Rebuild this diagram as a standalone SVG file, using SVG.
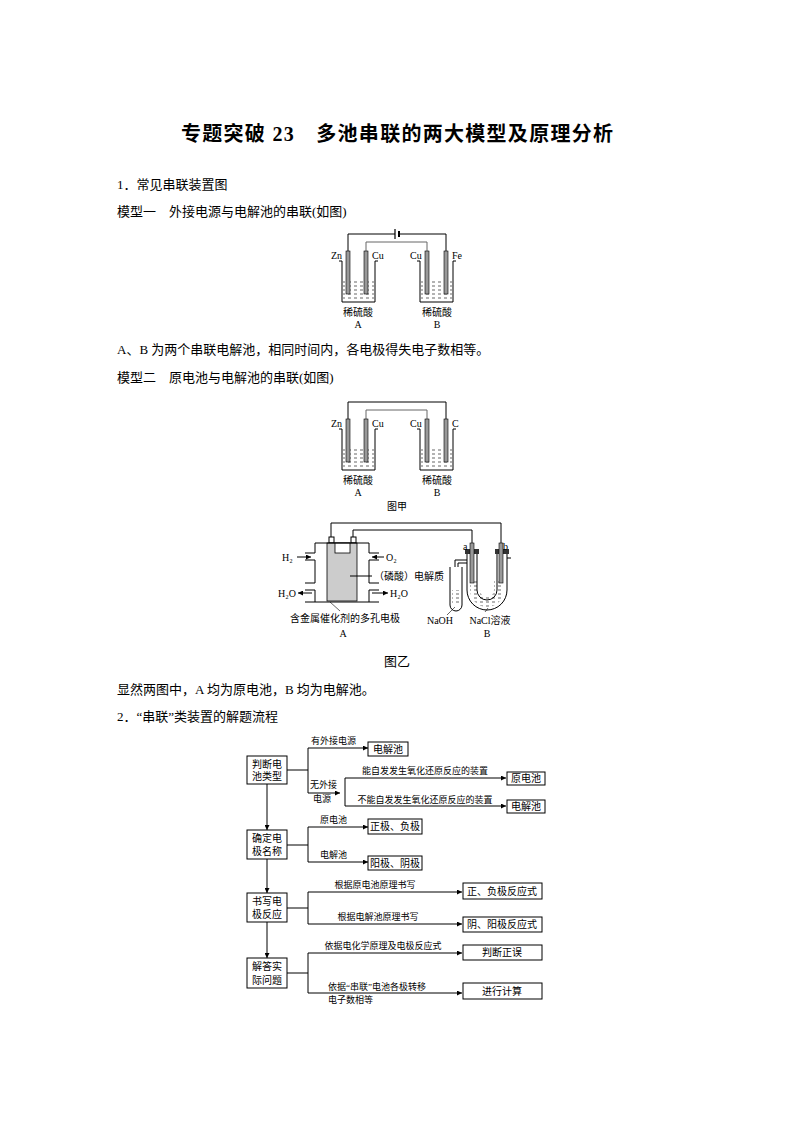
<svg xmlns="http://www.w3.org/2000/svg" width="794" height="1123" viewBox="0 0 794 1123">
<defs>
<marker id="ar" viewBox="0 0 6 6" refX="6" refY="3" markerWidth="5" markerHeight="5" orient="auto"><path d="M0,0 L6,3 L0,6 Z" fill="#000"/></marker>
<pattern id="dash" width="6" height="4" patternUnits="userSpaceOnUse"><line x1="0" y1="2" x2="3" y2="2" stroke="#000" stroke-width="0.6"/></pattern>
</defs>
<style>
text{font-family:"Liberation Serif","Noto Sans CJK SC",serif;fill:#000}
.t{font-size:13px}
.s{font-size:10px}
.xs{font-size:9px}
.b{fill:#fff;stroke:#000;stroke-width:1}
.l{fill:none;stroke:#000;stroke-width:1}
.g{fill:none;stroke:#666;stroke-width:1}
.el{fill:#999;stroke:#000;stroke-width:0.6}
</style>
<rect width="794" height="1123" fill="#fff"/>
<text x="397" y="141" font-size="20" font-weight="bold" text-anchor="middle" textLength="432" lengthAdjust="spacing">专题突破 23　多池串联的两大模型及原理分析</text>
<text x="117" y="189" class="t">1．常见串联装置图</text>
<text x="117" y="216" class="t">模型一　外接电源与电解池的串联(如图)</text>

<g id="fig1">
<path class="l" d="M348,251 V234 H395 M399,234 H446 V251"/>
<line x1="395" y1="229" x2="395" y2="239" stroke="#000" stroke-width="1.2"/>
<line x1="399" y1="231" x2="399" y2="237" stroke="#000" stroke-width="2"/>
<path class="g" d="M366,251 V242 H427 V251"/>
<path class="l" d="M339,261 H342 V302 H375 V261 H378"/>
<path class="l" d="M417,261 H420 V302 H453 V261 H456"/>
<rect x="343" y="280" width="31" height="21" fill="url(#dash)"/>
<rect x="421" y="280" width="31" height="21" fill="url(#dash)"/>
<rect class="el" x="346" y="251" width="4" height="43"/>
<rect class="el" x="364" y="251" width="4" height="43"/>
<rect class="el" x="425" y="251" width="4" height="43"/>
<rect class="el" x="444" y="251" width="4" height="43"/>
<text x="331" y="259" class="s">Zn</text><text x="372" y="259" class="s">Cu</text>
<text x="410" y="259" class="s">Cu</text><text x="452" y="259" class="s">Fe</text>
<text x="358" y="316" class="s" text-anchor="middle">稀硫酸</text><text x="358" y="328" class="s" text-anchor="middle">A</text>
<text x="437" y="316" class="s" text-anchor="middle">稀硫酸</text><text x="437" y="328" class="s" text-anchor="middle">B</text>
</g>
<text x="117" y="354" class="t">A、B 为两个串联电解池，相同时间内，各电极得失电子数相等。</text>
<text x="117" y="382" class="t">模型二　原电池与电解池的串联(如图)</text>

<g id="fig2">
<path class="l" d="M348,419 V402 H446 V419"/>
<path class="g" d="M366,419 V410 H427 V419"/>
<path class="l" d="M339,429 H342 V470 H375 V429 H378"/>
<path class="l" d="M417,429 H420 V470 H453 V429 H456"/>
<rect x="343" y="448" width="31" height="21" fill="url(#dash)"/>
<rect x="421" y="448" width="31" height="21" fill="url(#dash)"/>
<rect class="el" x="346" y="419" width="4" height="43"/>
<rect class="el" x="364" y="419" width="4" height="43"/>
<rect class="el" x="425" y="419" width="4" height="43"/>
<rect class="el" x="444" y="419" width="4" height="43"/>
<text x="331" y="427" class="s">Zn</text><text x="372" y="427" class="s">Cu</text>
<text x="410" y="427" class="s">Cu</text><text x="452" y="427" class="s">C</text>
<text x="358" y="484" class="s" text-anchor="middle">稀硫酸</text><text x="358" y="496" class="s" text-anchor="middle">A</text>
<text x="437" y="484" class="s" text-anchor="middle">稀硫酸</text><text x="437" y="496" class="s" text-anchor="middle">B</text>
<text x="397" y="510" class="s" text-anchor="middle">图甲</text>
</g>

<g id="fig3">
<path class="l" d="M331,539 V523 H501 V543"/>
<path class="l" d="M353,539 V530 H472 V543"/>
<rect x="329" y="537" width="5" height="6" class="b"/>
<rect x="351" y="537" width="5" height="6" class="b"/>
<rect x="327" y="543" width="30" height="58" fill="#ccc" stroke="#000" stroke-width="0.8"/>
<rect x="335" y="543" width="15" height="10" fill="#fff" stroke="#000" stroke-width="0.8"/>
<path class="l" d="M315,543 H369 M315,543 V553 H305 M315,560 V583 H305 M315,590 V602 H305 M305,560 H315 M305,590 H315 M369,543 V553 H379 M369,560 V583 H379 M369,590 V602 H379 M379,560 H369 M379,590 H369 M315,602 H369"/>
<text x="282" y="561" class="s">H₂</text>
<line x1="297" y1="557" x2="311" y2="557" stroke="#000" marker-end="url(#ar)"/>
<text x="386" y="561" class="s">O₂</text>
<line x1="384" y1="557" x2="372" y2="557" stroke="#000" marker-end="url(#ar)"/>
<line x1="350" y1="576" x2="372" y2="576" stroke="#000"/>
<text x="374" y="580" class="s">（磷酸）电解质</text>
<text x="278" y="597" class="s">H₂O</text>
<line x1="312" y1="593" x2="298" y2="593" stroke="#000" marker-end="url(#ar)"/>
<line x1="372" y1="593" x2="388" y2="593" stroke="#000" marker-end="url(#ar)"/>
<text x="390" y="597" class="s">H₂O</text>
<line x1="330" y1="602" x2="340" y2="611" stroke="#000" stroke-width="0.6"/>
<text x="345" y="622" class="s" text-anchor="middle">含金属催化剂的多孔电极</text>
<text x="343" y="637" class="s" text-anchor="middle">A</text>
<path class="l" d="M467,553 V590 A20,20 0 0 0 507,590 V553 M477,553 V590 A10,10 0 0 0 497,590 V553"/>
<path d="M470,580 V590 A17,17 0 0 0 504,590 V580 H494 V590 A7,7 0 0 1 480,590 V580 Z" fill="url(#dash)"/>
<rect x="465" y="549" width="14" height="5" fill="#333"/>
<rect x="495" y="549" width="14" height="5" fill="#333"/>
<rect class="el" x="470" y="543" width="4" height="40"/>
<rect class="el" x="499" y="543" width="4" height="40"/>
<path class="l" d="M467,560 H455 V567 M467,563 H458 V567"/>
<path class="l" d="M450,567 V605 A6,6 0 0 0 462,605 V567"/>
<rect x="452" y="590" width="8" height="15" fill="url(#dash)"/>
<path class="l" d="M507,558 H511"/>
<text x="463" y="550" class="s">a</text><text x="503" y="550" class="s">b</text>
<line x1="447" y1="615" x2="455" y2="607" stroke="#000" stroke-width="0.6"/>
<text x="440" y="624" class="s" text-anchor="middle">NaOH</text>
<line x1="485" y1="612" x2="488" y2="608" stroke="#000" stroke-width="0.6"/>
<text x="490" y="624" class="s" text-anchor="middle">NaCl溶液</text>
<text x="487" y="637" class="s" text-anchor="middle">B</text>
<text x="397" y="666" class="t" text-anchor="middle">图乙</text>
</g>
<text x="117" y="694" class="t">显然两图中，A 均为原电池，B 均为电解池。</text>
<text x="117" y="721" class="t">2．“串联”类装置的解题流程</text>

<g id="connectors">
<line x1="267" y1="784" x2="267" y2="830" class="l" marker-end="url(#ar)"/>
<line x1="267" y1="859" x2="267" y2="893" class="l" marker-end="url(#ar)"/>
<line x1="267" y1="922" x2="267" y2="958" class="l" marker-end="url(#ar)"/>
<path class="l" d="M287,770 H308 M308,748 V793"/>
<line x1="308" y1="748" x2="368" y2="748" class="l" marker-end="url(#ar)"/>
<line x1="308" y1="793" x2="340" y2="793" class="l" marker-end="url(#ar)"/>
<path class="l" d="M345,778 V806"/>
<line x1="345" y1="778" x2="506" y2="778" class="l" marker-end="url(#ar)"/>
<line x1="345" y1="806" x2="506" y2="806" class="l" marker-end="url(#ar)"/>
<path class="l" d="M287,845 H308 M308,827 V862"/>
<line x1="308" y1="827" x2="368" y2="827" class="l" marker-end="url(#ar)"/>
<line x1="308" y1="862" x2="368" y2="862" class="l" marker-end="url(#ar)"/>
<path class="l" d="M287,908 H308 M308,892 V924"/>
<line x1="308" y1="892" x2="462" y2="892" class="l" marker-end="url(#ar)"/>
<line x1="308" y1="924" x2="462" y2="924" class="l" marker-end="url(#ar)"/>
<path class="l" d="M287,973 H308 M308,953 V993"/>
<line x1="308" y1="953" x2="462" y2="953" class="l" marker-end="url(#ar)"/>
<line x1="308" y1="993" x2="462" y2="993" class="l" marker-end="url(#ar)"/>
</g>
<g class="xs">
<text x="311" y="744">有外接电源</text>
<text x="310" y="788">无外接</text><text x="313" y="802">电源</text>
<text x="425" y="774" text-anchor="middle">能自发发生氧化还原反应的装置</text>
<text x="425" y="803" text-anchor="middle">不能自发发生氧化还原反应的装置</text>
<text x="320" y="823">原电池</text>
<text x="320" y="858">电解池</text>
<text x="375" y="888" text-anchor="middle">根据原电池原理书写</text>
<text x="378" y="920" text-anchor="middle">根据电解池原理书写</text>
<text x="383" y="949" text-anchor="middle">依据电化学原理及电极反应式</text>
<text x="328" y="990">依据“串联”电池各极转移</text>
<text x="328" y="1003">电子数相等</text>
</g>
<g id="n1"><rect class="b" x="247" y="756" width="40" height="28"/><text x="267" y="768" class="s" text-anchor="middle">判断电</text><text x="267" y="780" class="s" text-anchor="middle">池类型</text></g>
<g id="n2"><rect class="b" x="247" y="830" width="40" height="29"/><text x="267" y="842" class="s" text-anchor="middle">确定电</text><text x="267" y="855" class="s" text-anchor="middle">极名称</text></g>
<g id="n3"><rect class="b" x="247" y="893" width="40" height="29"/><text x="267" y="905" class="s" text-anchor="middle">书写电</text><text x="267" y="918" class="s" text-anchor="middle">极反应</text></g>
<g id="n4"><rect class="b" x="247" y="958" width="40" height="30"/><text x="267" y="970" class="s" text-anchor="middle">解答实</text><text x="267" y="984" class="s" text-anchor="middle">际问题</text></g>
<g id="n5"><rect class="b" x="368" y="742" width="40" height="14"/><text x="388" y="753" class="s" text-anchor="middle">电解池</text></g>
<g id="n6"><rect class="b" x="507" y="772" width="38" height="13"/><text x="526" y="782" class="s" text-anchor="middle">原电池</text></g>
<g id="n7"><rect class="b" x="507" y="800" width="38" height="13"/><text x="526" y="810" class="s" text-anchor="middle">电解池</text></g>
<g id="n8"><rect class="b" x="368" y="819" width="54" height="15"/><text x="395" y="830" class="s" text-anchor="middle">正极、负极</text></g>
<g id="n9"><rect class="b" x="368" y="856" width="54" height="14"/><text x="395" y="867" class="s" text-anchor="middle">阳极、阴极</text></g>
<g id="n10"><rect class="b" x="463" y="883" width="79" height="16"/><text x="502" y="895" class="s" text-anchor="middle">正、负极反应式</text></g>
<g id="n11"><rect class="b" x="463" y="917" width="79" height="15"/><text x="502" y="928" class="s" text-anchor="middle">阴、阳极反应式</text></g>
<g id="n12"><rect class="b" x="463" y="945" width="79" height="15"/><text x="502" y="956" class="s" text-anchor="middle">判断正误</text></g>
<g id="n13"><rect class="b" x="463" y="983" width="79" height="16"/><text x="502" y="995" class="s" text-anchor="middle">进行计算</text></g>
</svg>
